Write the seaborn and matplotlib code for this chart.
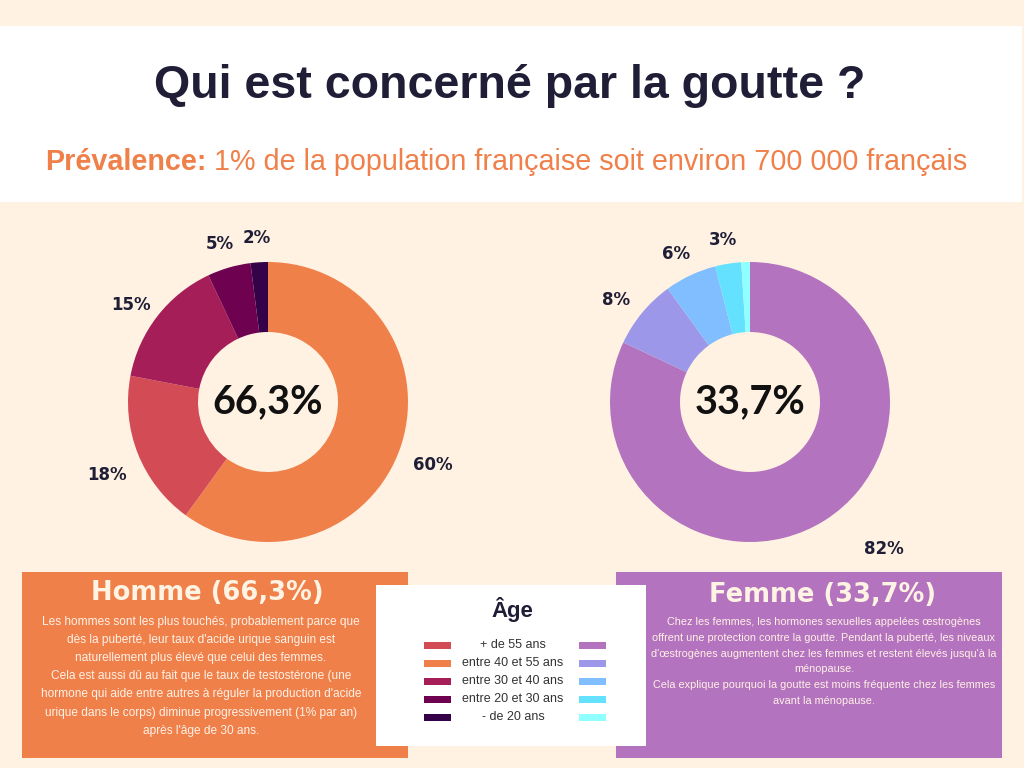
import matplotlib
matplotlib.use("Agg")
import matplotlib.pyplot as plt
import seaborn as sns
from matplotlib.patches import Rectangle

# ---------------- data ----------------
age_groups = ["+ de 55 ans", "entre 40 et 55 ans", "entre 30 et 40 ans",
              "entre 20 et 30 ans", "- de 20 ans"]
homme_legend_colors = ["#D34B55", "#F0804A", "#A51E57", "#6E0250", "#35024A"]
femme_legend_colors = ["#B373BE", "#9C97E8", "#80BEFF", "#63E1FF", "#8FFFFF"]

# pie order (clockwise from 12 o'clock)
homme_groups = ["entre 40 et 55 ans", "+ de 55 ans", "entre 30 et 40 ans",
                "entre 20 et 30 ans", "- de 20 ans"]
homme_values = [60, 18, 15, 5, 2]
homme_labels = ["60%", "18%", "15%", "5%", "2%"]

femme_groups = age_groups
femme_values = [82, 8, 6, 3, 1]
femme_labels = ["82%", "8%", "6%", "3%", ""]

homme_total = "66,3%"
femme_total = "33,7%"

title = "Qui est concerné par la goutte ?"
subtitle_bold = "Prévalence:"
subtitle_rest = " 1% de la population française soit environ 700 000 français"

homme_title = "Homme (66,3%)"
homme_text = ("Les hommes sont les plus touchés, probablement parce que\n"
              "dès la puberté, leur taux d'acide urique sanguin est\n"
              "naturellement plus élevé que celui des femmes.\n"
              "Cela est aussi dû au fait que le taux de testostérone (une\n"
              "hormone qui aide entre autres à réguler la production d'acide\n"
              "urique dans le corps) diminue progressivement (1% par an)\n"
              "après l'âge de 30 ans.")
femme_title = "Femme (33,7%)"
femme_text = ("Chez les femmes, les hormones sexuelles appelées œstrogènes\n"
              "offrent une protection contre la goutte. Pendant la puberté, les niveaux\n"
              "d'œstrogènes augmentent chez les femmes et restent élevés jusqu'à la\n"
              "ménopause.\n"
              "Cela explique pourquoi la goutte est moins fréquente chez les femmes\n"
              "avant la ménopause.")
legend_title = "Âge"

# ---------------- style ----------------
CREAM = "#FFF2E2"
NAVY = "#1F1E36"
ORANGE = "#F0804A"
PURPLE = "#B373BE"
sns.set_theme(style="white", rc={"figure.facecolor": CREAM, "axes.facecolor": CREAM})
plt.rcParams["font.family"] = ["Liberation Sans", "DejaVu Sans"]

W, H = 1024, 768
fig = plt.figure(figsize=(W / 100, H / 100), dpi=100)
fig.patch.set_facecolor(CREAM)

bg = fig.add_axes([0, 0, 1, 1])
bg.set_xlim(0, W)
bg.set_ylim(H, 0)
bg.axis("off")
bg.set_zorder(0)

# header band
bg.add_patch(Rectangle((0, 26), 1022, 176, facecolor="white", edgecolor="none"))
bg.text(510, 86, title, ha="center", va="center", fontsize=33.5, fontweight="bold",
        color=NAVY, family="Liberation Sans")

# subtitle with mixed weights
fig.canvas.draw()
r = fig.canvas.get_renderer()
tb = bg.text(0, 162, subtitle_bold, ha="left", va="center", fontsize=20.7,
             fontweight="bold", color=ORANGE, family="Liberation Sans")
tr = bg.text(0, 162, subtitle_rest, ha="left", va="center", fontsize=20.7,
             color=ORANGE, family="Liberation Sans")
wb = tb.get_window_extent(r).width
wr = tr.get_window_extent(r).width
x0 = 506 - (wb + wr) / 2
tb.set_x(x0)
tr.set_x(x0 + wb)

# ---------------- donuts ----------------
def donut(cx, cy, values, colors, labels, center_text, R=140, k=1.5):
    half = R * k
    ax = fig.add_axes([(cx - half) / W, (H - cy - half) / H, 2 * half / W, 2 * half / H])
    ax.set_zorder(2)
    wedges, texts = ax.pie(values, colors=colors, labels=labels, labeldistance=1.24,
                           startangle=90, counterclock=False,
                           wedgeprops=dict(width=0.5, linewidth=0),
                           textprops=dict(fontsize=12, fontweight="bold", color=NAVY,
                                          family="DejaVu Sans"))
    for t in texts:
        t.set_ha("center")
        t.set_va("top")
    ax.set_xlim(-k, k)
    ax.set_ylim(-k, k)
    ax.set_aspect("equal")
    ax.axis("off")
    ax.text(0, 0, center_text, ha="center", va="center", fontsize=28.5,
            fontweight="bold", color="#111111", family="Lato")
    return ax, texts

homme_colors = [homme_legend_colors[age_groups.index(g)] for g in homme_groups]
femme_colors = [femme_legend_colors[age_groups.index(g)] for g in femme_groups]

axh, th = donut(268, 402, homme_values, homme_colors, homme_labels, homme_total)
axf, tf = donut(750, 402, femme_values, femme_colors, femme_labels, femme_total)
x, y = tf[0].get_position()
tf[0].set_position((x + 0.29, y + 0.06))

# ---------------- bottom boxes ----------------
bg.add_patch(Rectangle((22, 572), 386, 186, facecolor=ORANGE, edgecolor="none"))
bg.add_patch(Rectangle((616, 572), 386, 186, facecolor=PURPLE, edgecolor="none"))
bg.add_patch(Rectangle((376, 585), 270, 161, facecolor="white", edgecolor="none"))

BOX_TXT = "#FFF1E6"
bg.text(207, 593, homme_title, ha="center", va="center", fontsize=18.5,
        fontweight="bold", color="#FFF3E3", family="DejaVu Sans")
bg.text(201, 616, homme_text, ha="center", va="top", fontsize=8.6,
        linespacing=1.68, color=BOX_TXT, family="Liberation Sans")
bg.text(823, 595, femme_title, ha="center", va="center", fontsize=18.5,
        fontweight="bold", color="#FFF3E3", family="DejaVu Sans")
bg.text(824, 617, femme_text, ha="center", va="top", fontsize=7.8,
        linespacing=1.72, color=BOX_TXT, family="Liberation Sans")

# legend
bg.text(512, 609, legend_title, ha="center", va="center", fontsize=16,
        fontweight="bold", color=NAVY, family="Liberation Sans")
for i, g in enumerate(age_groups):
    yy = 645 + i * 18
    bg.add_patch(Rectangle((424, yy - 3.5), 27, 7, facecolor=homme_legend_colors[i],
                           edgecolor="none"))
    bg.add_patch(Rectangle((579, yy - 3.5), 27, 7, facecolor=femme_legend_colors[i],
                           edgecolor="none"))
    bg.text(513, yy, g, ha="center", va="center", fontsize=9, color="#333333",
            family="Liberation Sans")

fig.savefig("out.png", dpi=100, facecolor=CREAM)
